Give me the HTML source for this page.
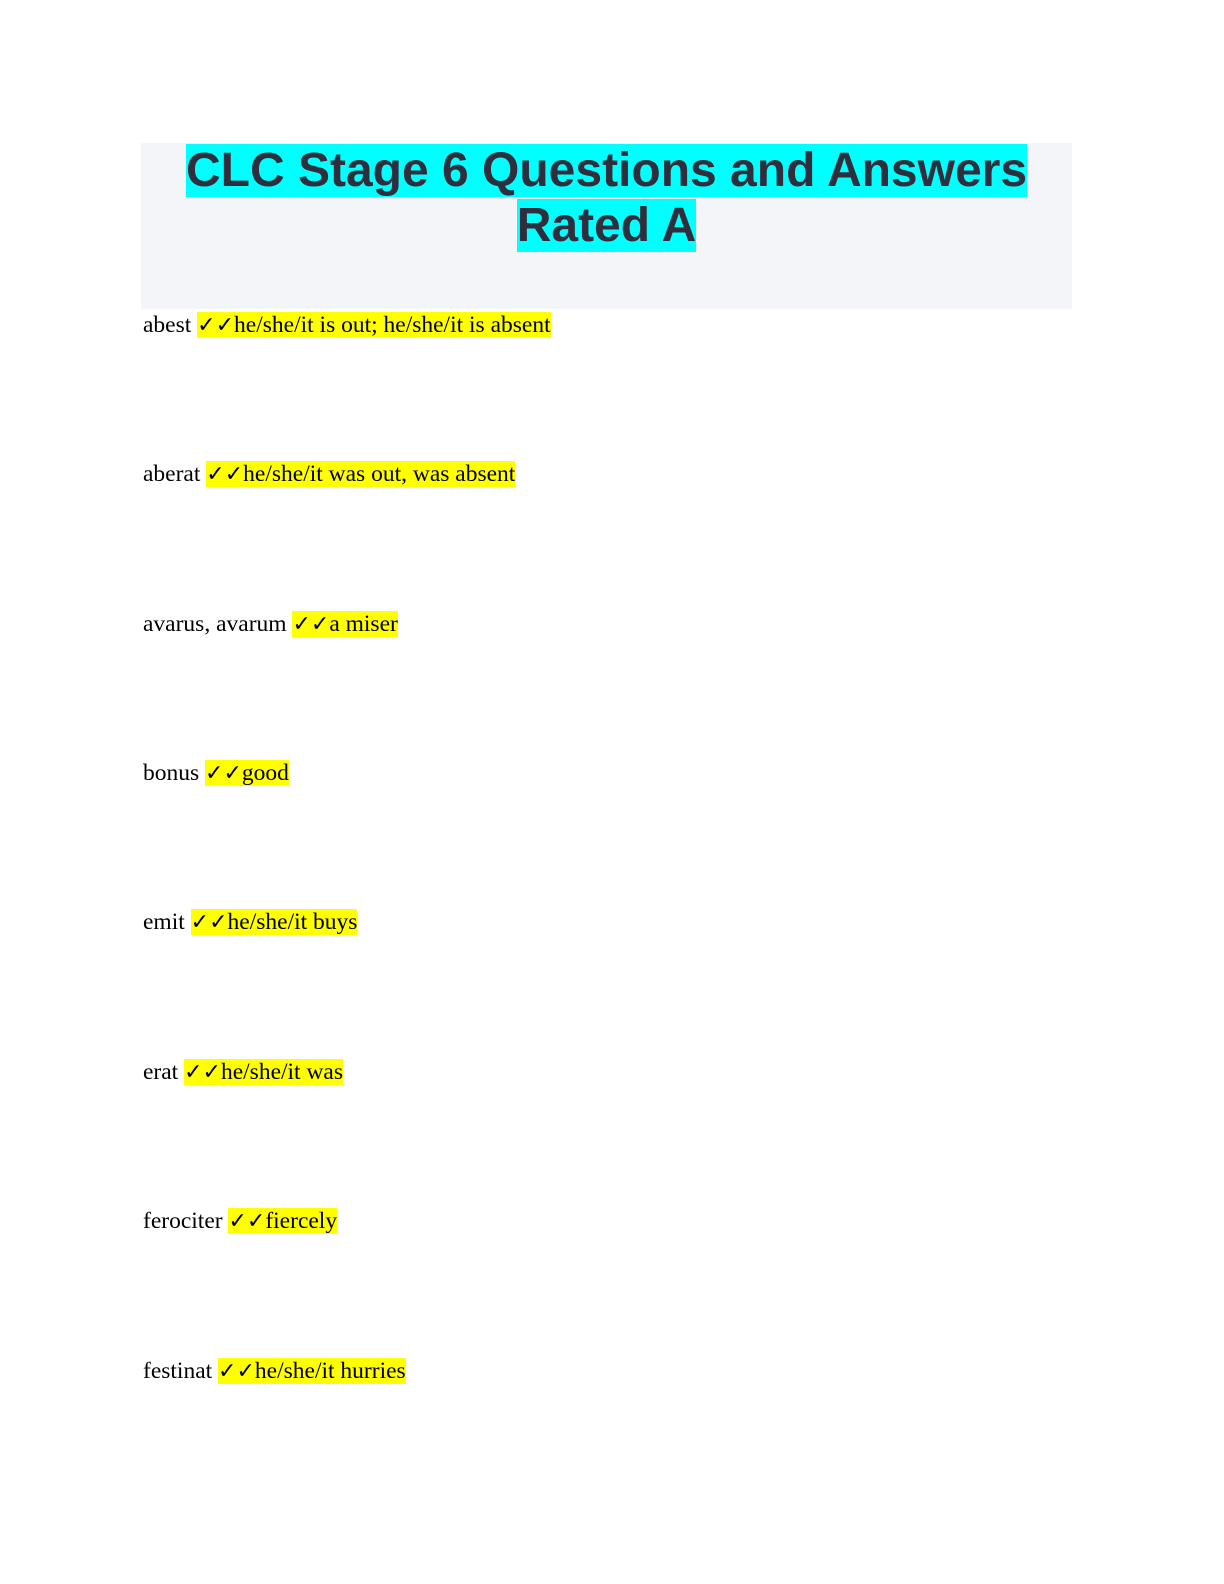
<!DOCTYPE html>
<html><head><meta charset="utf-8"><style>
body{margin:0;width:1224px;height:1584px;background:#fff;position:relative;overflow:hidden}
.box{position:absolute;left:141px;top:143px;width:931px;height:166px;background:#f4f5f9}
.t{position:absolute;left:141px;width:931px;text-align:center;font:bold 48px/55px "Liberation Sans",sans-serif;color:#2e2e3c}
.t span{background:#00ffff}
.r{position:absolute;left:143px;font:23.5px/32px "Liberation Serif",serif;color:#000;white-space:pre}
.r span{background:#ffff00}
.r b{font-family:"DejaVu Sans",sans-serif;font-weight:bold;font-size:22px}
</style></head><body>
<div class="box"></div>
<div class="t" style="top:143px"><span>CLC Stage 6 Questions and Answers</span></div>
<div class="t" style="top:198px"><span>Rated A</span></div>
<div class="r" style="top:309px">abest <span><b>✓✓</b>he/she/it is out; he/she/it is absent</span></div>
<div class="r" style="top:458px">aberat <span><b>✓✓</b>he/she/it was out, was absent</span></div>
<div class="r" style="top:608px">avarus, avarum <span><b>✓✓</b>a miser</span></div>
<div class="r" style="top:757px">bonus <span><b>✓✓</b>good</span></div>
<div class="r" style="top:906px">emit <span><b>✓✓</b>he/she/it buys</span></div>
<div class="r" style="top:1056px">erat <span><b>✓✓</b>he/she/it was</span></div>
<div class="r" style="top:1205px">ferociter <span><b>✓✓</b>fiercely</span></div>
<div class="r" style="top:1355px">festinat <span><b>✓✓</b>he/she/it hurries</span></div>
</body></html>
